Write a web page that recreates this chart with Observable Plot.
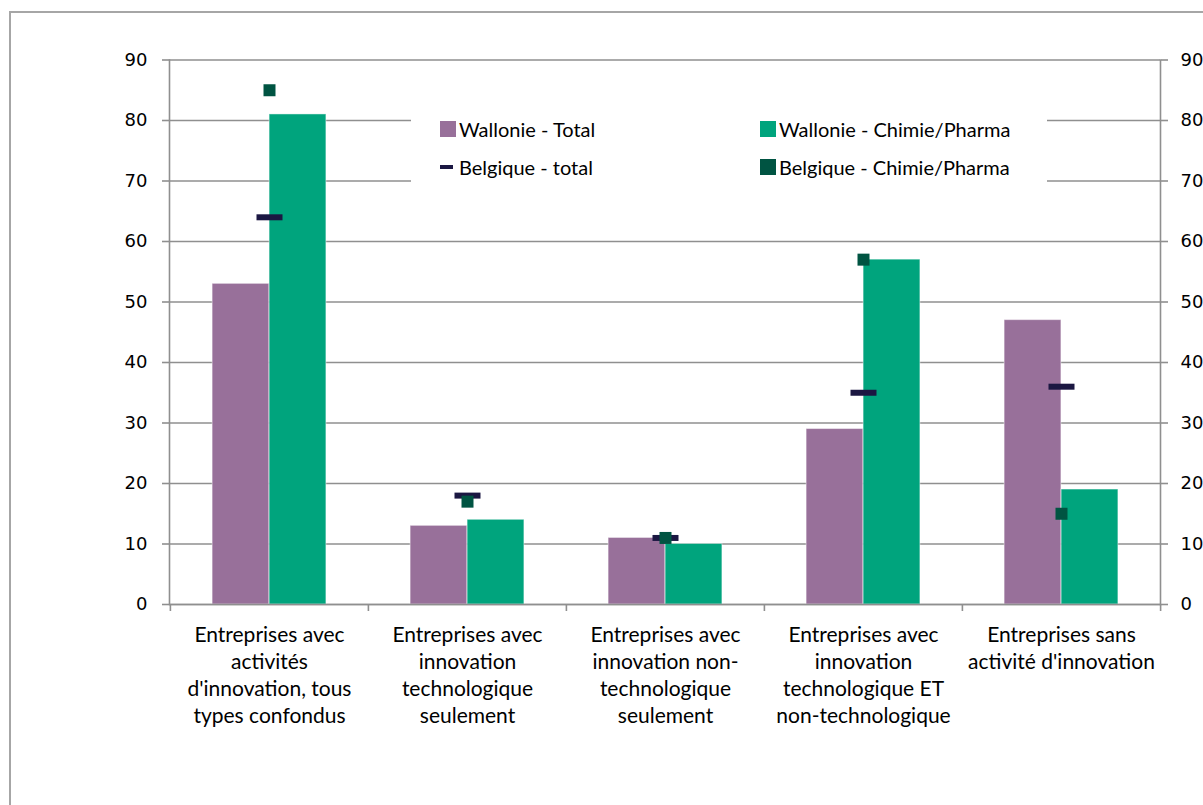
<!DOCTYPE html>
<html>
<head>
<meta charset="utf-8">
<script src="https://cdn.jsdelivr.net/npm/d3@7"></script>
<script src="https://cdn.jsdelivr.net/npm/@observablehq/plot@0.6"></script>
<style>
  html, body { margin: 0; padding: 0; background: #fff; }
  #wrap { position: relative; width: 1203px; height: 805px; overflow: hidden; }
  #border { position: absolute; left: 9px; top: 11px; width: 1300px; height: 900px; border: 2px solid #a6a6a6; pointer-events: none; }
  #legend { position: absolute; left: 411px; top: 100px; width: 636px; height: 92px; background: #fff; font-family: Lato, "Open Sans", sans-serif; font-size: 20px; color: #000; }
  .item { position: absolute; display: flex; align-items: center; white-space: nowrap; }
  .sw { display: inline-block; margin-right: 3px; }
</style>
</head>
<body>
<div id="wrap">
  <div id="chart"></div>
  <div id="legend"></div>
  <div id="border"></div>
</div>
<script>
// ---- data ----
const categories = [
  "Entreprises avec\nactivités\nd'innovation, tous\ntypes confondus",
  "Entreprises avec\ninnovation\ntechnologique\nseulement",
  "Entreprises avec\ninnovation non-\ntechnologique\nseulement",
  "Entreprises avec\ninnovation\ntechnologique ET\nnon-technologique",
  "Entreprises sans\nactivité d'innovation"
];
const wallonieTotal  = [53, 13, 11, 29, 47];
const wallonieChimie = [81, 14, 10, 57, 19];
const belgiqueTotal  = [64, 18, 11, 35, 36];
const belgiqueChimie = [85, 17, 11, 57, 15];
const yTicks = [0, 10, 20, 30, 40, 50, 60, 70, 80, 90];
const seriesNames = ["Wallonie - Total", "Wallonie - Chimie/Pharma", "Belgique - total", "Belgique - Chimie/Pharma"];

// ---- styles ----
const colors = {
  wTotal: "#98709a",
  wChimie: "#00a47d",
  bTotal: "#1b1742",
  bChimie: "#005442"
};

const toRows = (vals) => categories.map((c, i) => ({cat: c, v: vals[i]}));
const rowsWT = toRows(wallonieTotal);
const rowsWC = toRows(wallonieChimie);
const rowsBT = toRows(belgiqueTotal);
const rowsBC = toRows(belgiqueChimie);

const W = 1203, H = 805;
const mL = 169, mR = W - 1160, mT = 59.5, mB = H - 604;
const bw = (W - mL - mR) / categories.length;
const barW = 57;
const gap = bw / 2 - barW;

const dashSymbol = { draw(ctx) { ctx.rect(-13, -3, 26, 6); } };
const squareSymbol = { draw(ctx) { ctx.rect(-6, -6, 12, 12); } };

const gridColor = "#8f8f8f";
const tickFont = { fontFamily: "DejaVu Sans", fontSize: 18 };

const chart = Plot.plot({
  width: W,
  height: H,
  marginLeft: mL,
  marginRight: mR,
  marginTop: mT,
  marginBottom: mB,
  style: { background: "transparent", color: "#000" },
  x: { domain: categories, padding: 0, axis: null, label: null },
  y: { domain: [0, 90], axis: null, label: null },
  marks: [
    Plot.gridY(yTicks, { stroke: gridColor, strokeOpacity: 1, strokeWidth: 1.6 }),
    Plot.barY(rowsWT, { x: "cat", y: "v", fill: colors.wTotal, insetLeft: gap, insetRight: bw / 2, stroke: "#fff", strokeOpacity: 0.45, strokeWidth: 1 }),
    Plot.barY(rowsWC, { x: "cat", y: "v", fill: colors.wChimie, insetLeft: bw / 2, insetRight: gap, stroke: "#fff", strokeOpacity: 0.45, strokeWidth: 1 }),
    Plot.dot(rowsBT, { x: "cat", y: "v", symbol: dashSymbol, r: 6, fill: colors.bTotal, stroke: null }),
    Plot.dot(rowsBC, { x: "cat", y: "v", symbol: squareSymbol, r: 6, fill: colors.bChimie, stroke: null }),
    Plot.frame({ anchor: "left", stroke: gridColor, strokeWidth: 1.6 }),
    Plot.frame({ anchor: "right", stroke: gridColor, strokeWidth: 1.6 }),
    Plot.ruleY([0], { stroke: gridColor, strokeWidth: 1.6 }),
    Plot.axisY(yTicks, { anchor: "left", label: null, tickSize: 7, tickPadding: 15, stroke: gridColor, strokeWidth: 1.6, tickFormat: d => String(d), ...tickFont }),
    Plot.axisY(yTicks, { anchor: "right", label: null, tickSize: 7, tickPadding: 13, stroke: gridColor, strokeWidth: 1.6, tickFormat: d => String(d), ...tickFont }),
    // category boundary ticks
    Plot.axisX(categories, { anchor: "bottom", label: null, tickSize: 7, text: null, dx: -bw / 2, stroke: gridColor, strokeWidth: 1.6 }),
    Plot.axisX(categories.slice(-1), { anchor: "bottom", label: null, tickSize: 7, text: null, dx: bw / 2, stroke: gridColor, strokeWidth: 1.6 }),
    // category labels
    Plot.axisX(categories, { anchor: "bottom", label: null, tickSize: 0, tickPadding: 18, lineHeight: 1.29, fontFamily: "Lato", fontSize: 21, fill: "#000" })
  ]
});
document.getElementById("chart").appendChild(chart);

// ---- legend ----
const legend = document.getElementById("legend");
const legendItems = [
  { name: seriesNames[0], left: 29, top: 20, sw: { w: 16, h: 16, c: colors.wTotal } },
  { name: seriesNames[1], left: 349, top: 20, sw: { w: 16, h: 16, c: colors.wChimie } },
  { name: seriesNames[2], left: 29, top: 58, sw: { w: 13, h: 4, c: colors.bTotal } },
  { name: seriesNames[3], left: 349, top: 58, sw: { w: 16, h: 16, c: colors.bChimie } }
];
legendItems.forEach(it => {
  const d = document.createElement("div");
  d.className = "item";
  d.style.left = it.left + "px";
  d.style.top = it.top + "px";
  d.style.height = "18px";
  const s = document.createElement("span");
  s.className = "sw";
  s.style.width = it.sw.w + "px";
  s.style.height = it.sw.h + "px";
  s.style.background = it.sw.c;
  if (it.sw.h < 10) s.style.marginRight = "6px";
  const t = document.createElement("span");
  t.textContent = it.name;
  d.appendChild(s);
  d.appendChild(t);
  legend.appendChild(d);
});
</script>
</body>
</html>
